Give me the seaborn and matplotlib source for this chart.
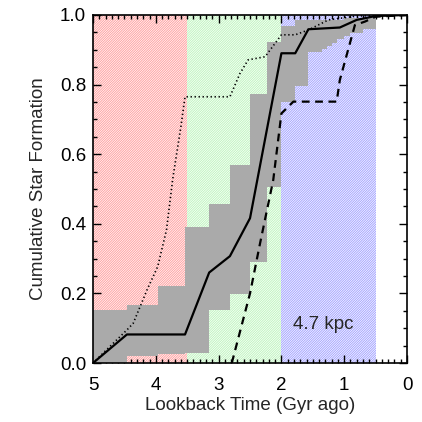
import numpy as np
import pandas as pd
import matplotlib
matplotlib.use('Agg')
import matplotlib.pyplot as plt
import seaborn as sns

# Data (Gyr ago, fraksi kumulatif)
solidT = [5.0, 4.46, 3.535, 3.15, 2.82, 2.5, 2.0, 1.78, 1.57, 1.07, 0.8, 0.5, 0.0]
solidF = [0.0, 0.082, 0.082, 0.26, 0.307, 0.416, 0.89, 0.89, 0.959, 0.964, 0.986, 0.997, 1.0]

dashT = [2.79, 2.5, 2.34, 2.13, 2.0, 1.81, 1.12, 1.07, 0.83, 0.67, 0.5, 0.0]
dashF = [0.0, 0.2, 0.344, 0.526, 0.717, 0.751, 0.751, 0.813, 0.971, 0.981, 0.995, 1.0]

dotT = [5.0, 4.46, 4.36, 4.14, 3.97, 3.83, 3.73, 3.6, 3.535, 2.82, 2.66, 2.53, 2.26, 2.0, 1.78, 1.57, 1.25, 0.8, 0.0]
dotF = [0.0, 0.095, 0.114, 0.21, 0.277, 0.382, 0.53, 0.68, 0.765, 0.765, 0.832, 0.871, 0.88, 0.943, 0.943, 0.957, 0.986, 0.997, 1.0]

# Batas pita abu-abu (step)
bandEdges = [0.5, 0.70, 0.91, 1.01, 1.12, 1.2, 1.28, 1.36, 1.57, 1.78, 2.0, 2.23, 2.5, 2.82, 3.15, 3.535, 3.97, 4.46, 5.0]
bandLow = [0.961, 0.949, 0.940, 0.930, 0.920, 0.911, 0.901, 0.895, 0.795, 0.751, 0.507, 0.29, 0.197, 0.152, 0.03, 0.027, 0.021, 0.0, 0.0]
bandHigh = [0.99, 0.99, 0.99, 0.985, 0.985, 0.985, 0.985, 0.985, 0.985, 0.967, 0.923, 0.772, 0.569, 0.456, 0.392, 0.221, 0.167, 0.152, 0.152]

# Rentang waktu berwarna
spans = [(3.5, 5.0, '#ffa0a0'), (2.0, 3.5, '#bff5bf'), (0.5, 2.0, '#a4a4ff')]

sns.set_style('ticks')
plt.rcParams['font.family'] = ['Liberation Sans', 'DejaVu Sans']
plt.rcParams['hatch.linewidth'] = 0.7

fig = plt.figure(figsize=(4.22, 4.22), dpi=100)
ax = fig.add_axes([0.2204, 0.1398, 0.7441, 0.8247])

for lo, hi, col in spans:
    ax.axvspan(lo, hi, facecolor='white', edgecolor=col, hatch='/' * 14, linewidth=0, zorder=0)

ax.fill_between(bandEdges, bandLow, bandHigh, step='post', color='#aaaaaa', linewidth=0, zorder=1)

sns.lineplot(x=dotT, y=dotF, ax=ax, color='black', linestyle=(0, (0.8, 1.6)), linewidth=1.2, sort=False, estimator=None, zorder=3)
sns.lineplot(x=solidT, y=solidF, ax=ax, color='black', linestyle='-', linewidth=1.6, sort=False, estimator=None, zorder=3)
sns.lineplot(x=dashT, y=dashF, ax=ax, color='black', linestyle=(0, (3.5, 2.5)), linewidth=1.6, sort=False, estimator=None, zorder=3)

ax.text(1.34, 0.112, '4.7 kpc', fontsize=13.5, ha='center', va='center', zorder=6)

ax.set_xlim(5, 0)
ax.set_ylim(0, 1.0)
ax.set_xticks([5, 4, 3, 2, 1, 0])
ax.set_xticklabels(['5', '4', '3', '2', '1', '0'])
ax.set_yticks([0.0, 0.2, 0.4, 0.6, 0.8, 1.0])
ax.set_yticklabels(['0.0', '0.2', '0.4', '0.6', '0.8', '1.0'])
ax.set_xticks(np.arange(0, 5.01, 0.1), minor=True)
ax.set_yticks(np.arange(0, 1.001, 0.05), minor=True)
ax.tick_params(which='both', direction='in', top=True, right=True, width=1, labelsize=13.5, color='black', labelcolor='black')
ax.tick_params(axis='x', which='major', length=5.5, pad=10)
ax.tick_params(axis='y', which='major', length=5.5, pad=5)
ax.tick_params(which='minor', length=3)
for s in ax.spines.values():
    s.set_linewidth(1.2)
    s.set_color('black')
    s.set_zorder(5)

ax.set_xlabel('Lookback Time (Gyr ago)', fontsize=13.5, labelpad=2)
ax.set_ylabel('Cumulative Star Formation', fontsize=13.5, labelpad=9)

fig.savefig('out.png', dpi=100)
